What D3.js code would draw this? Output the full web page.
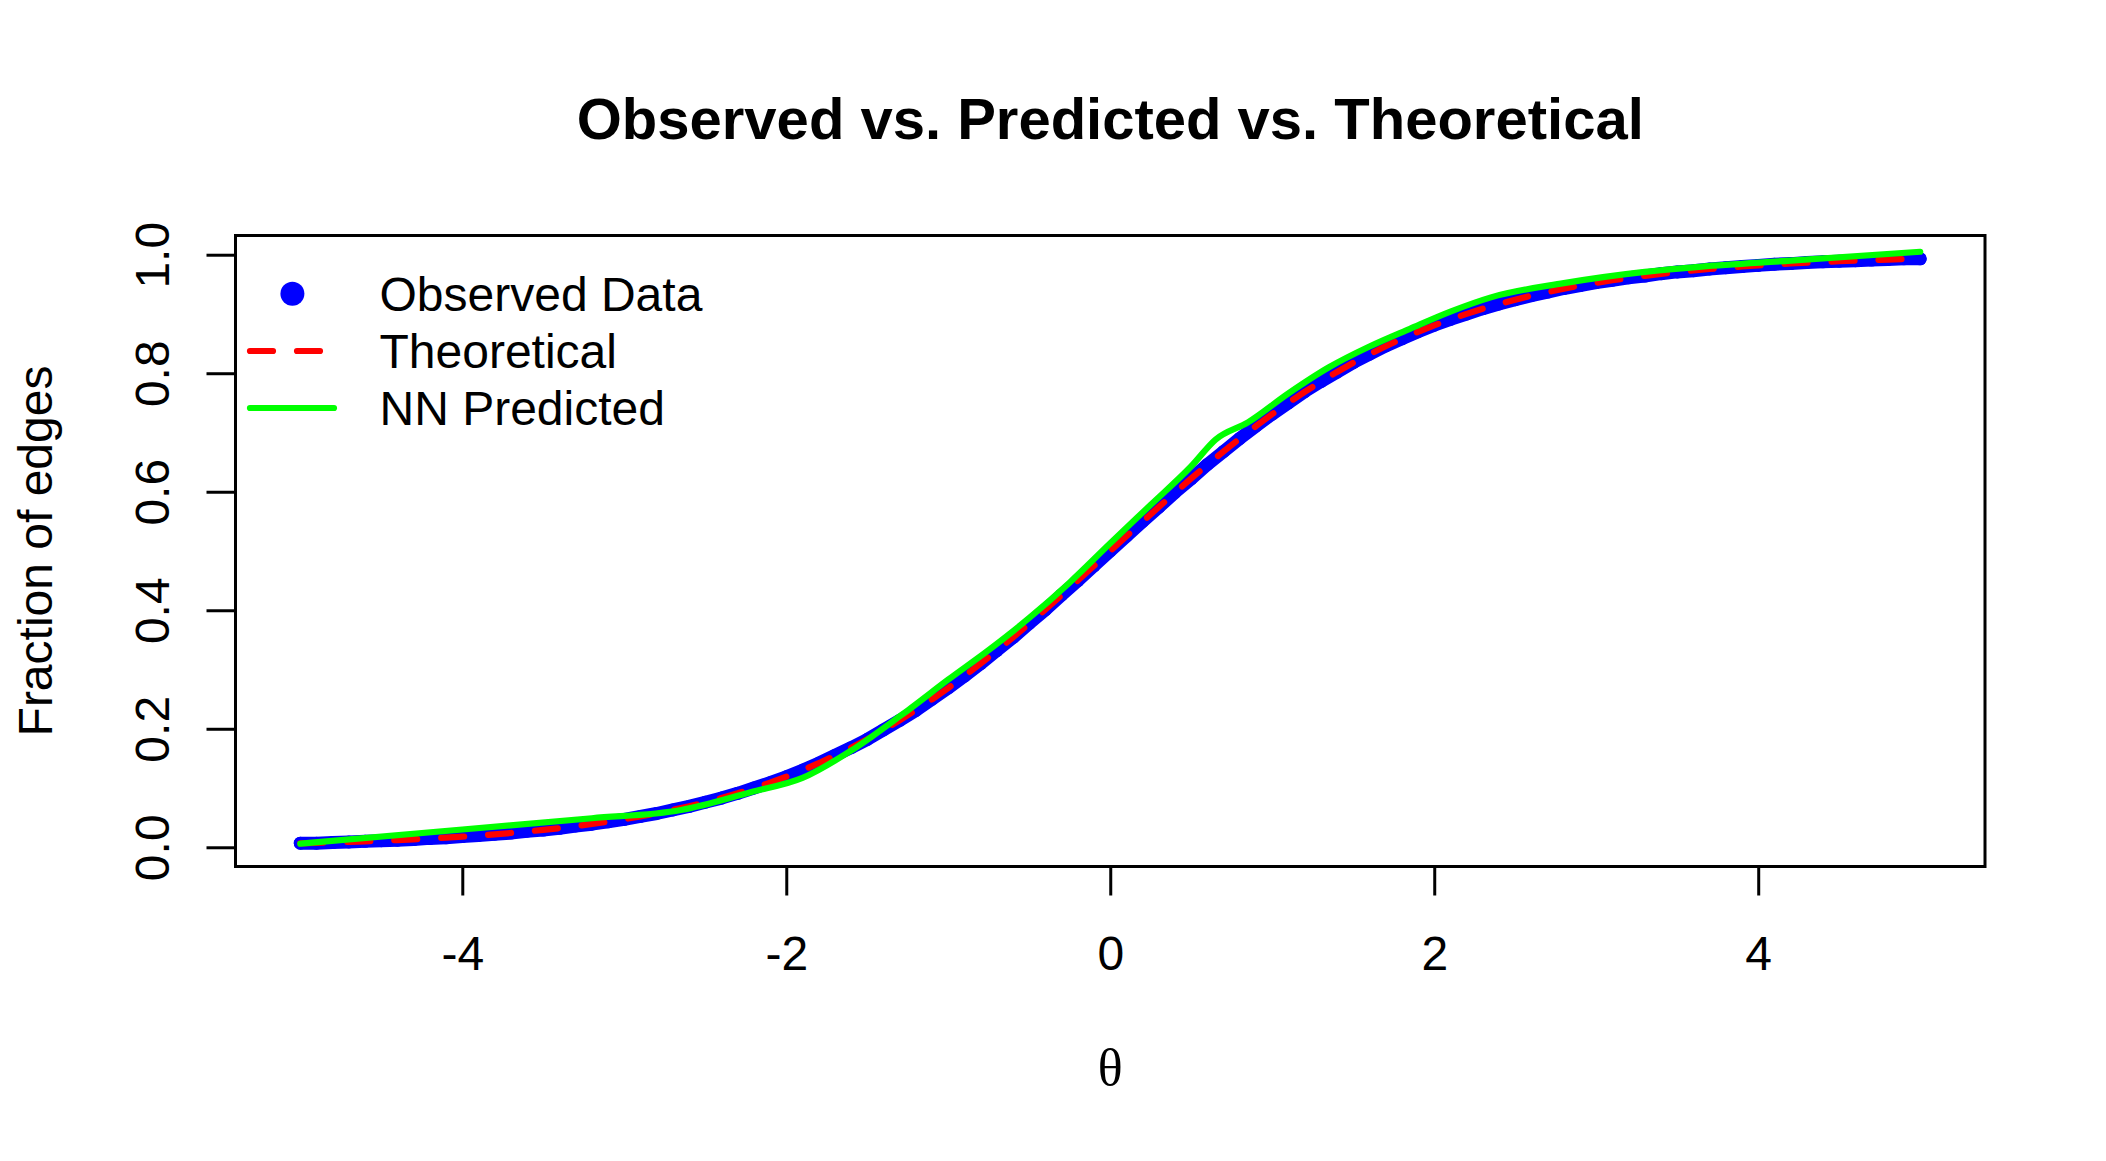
<!DOCTYPE html>
<html>
<head>
<meta charset="utf-8">
<script src="https://cdn.jsdelivr.net/npm/d3@7"></script>
<style>
  html, body { margin: 0; padding: 0; background: #fff; }
  svg { display: block; }
</style>
</head>
<body>
<svg id="chart"></svg>
<script>
/* Observed vs. Predicted vs. Theoretical — logistic edge fraction */

const thetaGrid = [
  -5.0,-4.9,-4.8,-4.7,-4.6,-4.5,-4.4,-4.3,-4.2,-4.1,
  -4.0,-3.9,-3.8,-3.7,-3.6,-3.5,-3.4,-3.3,-3.2,-3.1,
  -3.0,-2.9,-2.8,-2.7,-2.6,-2.5,-2.4,-2.3,-2.2,-2.1,
  -2.0,-1.9,-1.8,-1.7,-1.6,-1.5,-1.4,-1.3,-1.2,-1.1,
  -1.0,-0.9,-0.8,-0.7,-0.6,-0.5,-0.4,-0.3,-0.2,-0.1,
  0.0,
  0.1,0.2,0.3,0.4,0.5,0.6,0.7,0.8,0.9,1.0,
  1.1,1.2,1.3,1.4,1.5,1.6,1.7,1.8,1.9,2.0,
  2.1,2.2,2.3,2.4,2.5,2.6,2.7,2.8,2.9,3.0,
  3.1,3.2,3.3,3.4,3.5,3.6,3.7,3.8,3.9,4.0,
  4.1,4.2,4.3,4.4,4.5,4.6,4.7,4.8,4.9,5.0
];

const observedFrac = [
  0.007,0.007,0.008,0.009,0.010,0.011,0.012,0.013,0.015,0.016,
  0.018,0.020,0.022,0.024,0.027,0.029,0.032,0.036,0.039,0.043,
  0.047,0.052,0.057,0.063,0.069,0.076,0.083,0.091,0.100,0.109,
  0.119,0.130,0.142,0.155,0.168,0.182,0.198,0.214,0.231,0.250,
  0.269,0.289,0.310,0.332,0.354,0.378,0.401,0.426,0.450,0.475,
  0.500,
  0.525,0.550,0.574,0.599,0.622,0.646,0.668,0.690,0.711,0.731,
  0.750,0.769,0.786,0.802,0.818,0.832,0.846,0.858,0.870,0.881,
  0.891,0.900,0.909,0.917,0.924,0.931,0.937,0.943,0.948,0.953,
  0.957,0.961,0.964,0.968,0.971,0.973,0.976,0.978,0.980,0.982,
  0.984,0.985,0.987,0.988,0.989,0.990,0.991,0.992,0.993,0.993
];

const theoreticalFrac = [
  0.0067,0.0074,0.0082,0.0090,0.0100,0.0110,0.0121,0.0134,0.0148,0.0163,
  0.0180,0.0198,0.0219,0.0241,0.0266,0.0293,0.0323,0.0356,0.0392,0.0431,
  0.0474,0.0522,0.0573,0.0630,0.0691,0.0759,0.0832,0.0911,0.0998,0.1091,
  0.1192,0.1301,0.1419,0.1545,0.1680,0.1824,0.1978,0.2142,0.2315,0.2497,
  0.2689,0.2891,0.3100,0.3318,0.3543,0.3775,0.4013,0.4256,0.4502,0.4750,
  0.5000,
  0.5250,0.5498,0.5744,0.5987,0.6225,0.6457,0.6682,0.6900,0.7109,0.7311,
  0.7503,0.7685,0.7858,0.8022,0.8176,0.8320,0.8455,0.8581,0.8699,0.8808,
  0.8909,0.9002,0.9089,0.9168,0.9241,0.9309,0.9370,0.9427,0.9478,0.9526,
  0.9569,0.9608,0.9644,0.9677,0.9707,0.9734,0.9759,0.9781,0.9802,0.9820,
  0.9837,0.9852,0.9866,0.9879,0.9890,0.9900,0.9910,0.9918,0.9926,0.9933
];

const nnTheta = [-5, -4, -3.2, -2.65, -2.22, -1.9, -1.6, -1.3, -1.25, -1.0, -0.75, -0.5, -0.25,
  0, 0.25, 0.5, 0.65, 0.85, 1.1, 1.35, 1.6, 1.85, 2.1, 2.35, 2.8, 3.3, 3.65, 4.2, 5];
const nnFrac = [0.006, 0.030, 0.049, 0.063, 0.093, 0.117, 0.163, 0.221, 0.231, 0.283, 0.333, 0.387, 0.447,
  0.513, 0.578, 0.643, 0.688, 0.717, 0.766, 0.810, 0.845, 0.875, 0.904, 0.928, 0.952, 0.971, 0.980, 0.990, 1.005];

const xTicks = [-4, -2, 0, 2, 4];
const yTicks = [0, 0.2, 0.4, 0.6, 0.8, 1.0];
const legendLabels = ['Observed Data', 'Theoretical', 'NN Predicted'];

const W = 2106, H = 1161;
const box = { left: 235.5, right: 1985, top: 235.5, bottom: 866.5 };
const FONT = 'Liberation Sans, Arial, Helvetica, sans-serif';
const FS = 48;
const BLUE = '#0000ff', RED = '#ff0000', GREEN = '#00ff00';

const svg = d3.select('#chart').attr('width', W).attr('height', H);
svg.append('rect').attr('width', W).attr('height', H).attr('fill', '#fff');

// R-style 4% axis extension
function rRange(vals) {
  const e = d3.extent(vals), p = (e[1] - e[0]) * 0.04;
  return [e[0] - p, e[1] + p];
}
const x = d3.scaleLinear().domain(rRange(thetaGrid)).range([box.left, box.right]);
const y = d3.scaleLinear().domain(rRange(observedFrac)).range([box.bottom, box.top]);

const obsPts = thetaGrid.map((t, i) => [t, observedFrac[i]]);
const thPts = thetaGrid.map((t, i) => [t, theoreticalFrac[i]]);
const nnPts = nnTheta.map((t, i) => [t, nnFrac[i]]);
const line = d3.line().x(d => x(d[0])).y(d => y(d[1]));

const plot = svg.append('g');
// observed points (dense solid circles forming a band)
plot.append('path').datum(obsPts).attr('d', line)
  .attr('fill', 'none').attr('stroke', BLUE).attr('stroke-width', 13)
  .attr('stroke-linecap', 'round').attr('stroke-linejoin', 'round');
plot.selectAll('circle.obs').data(obsPts).enter().append('circle')
  .attr('class', 'obs').attr('cx', d => x(d[0])).attr('cy', d => y(d[1]))
  .attr('r', 6.5).attr('fill', BLUE);
// theoretical
plot.append('path').datum(thPts).attr('d', line)
  .attr('fill', 'none').attr('stroke', RED).attr('stroke-width', 6.2)
  .attr('stroke-dasharray', '23,24').attr('stroke-linecap', 'round');
// NN predicted
plot.append('path').datum(nnPts).attr('d', line.curve(d3.curveMonotoneX))
  .attr('fill', 'none').attr('stroke', GREEN).attr('stroke-width', 6.2)
  .attr('stroke-linecap', 'round').attr('stroke-linejoin', 'round');

// box
svg.append('rect')
  .attr('x', box.left).attr('y', box.top)
  .attr('width', box.right - box.left).attr('height', box.bottom - box.top)
  .attr('fill', 'none').attr('stroke', '#000').attr('stroke-width', 3);

// x axis
const gx = svg.append('g').attr('transform', `translate(0,${box.bottom})`)
  .call(d3.axisBottom(x).tickValues(xTicks).tickSizeInner(29).tickSizeOuter(0).tickFormat(d3.format('d')));
gx.select('.domain').remove();
gx.append('line').attr('x1', x(xTicks[0])).attr('x2', x(xTicks[xTicks.length - 1]))
  .attr('stroke', '#000').attr('stroke-width', 3);
gx.selectAll('.tick line').attr('stroke', '#000').attr('stroke-width', 3);
gx.selectAll('.tick text').attr('y', 103.5).attr('dy', null)
  .attr('fill', '#000').style('font-family', FONT).style('font-size', FS + 'px')
  .text(d => d < 0 ? '-' + Math.abs(d) : d);

// y axis
const gy = svg.append('g').attr('transform', `translate(${box.left},0)`)
  .call(d3.axisLeft(y).tickValues(yTicks).tickSizeInner(29).tickSizeOuter(0).tickFormat(d3.format('.1f')));
gy.select('.domain').remove();
gy.append('line').attr('y1', y(yTicks[0])).attr('y2', y(yTicks[yTicks.length - 1]))
  .attr('stroke', '#000').attr('stroke-width', 3);
gy.selectAll('.tick line').attr('stroke', '#000').attr('stroke-width', 3);
gy.selectAll('.tick text').attr('x', null).attr('dy', null)
  .attr('transform', `translate(${168.7 - box.left},0) rotate(-90)`)
  .attr('text-anchor', 'middle').attr('fill', '#000')
  .style('font-family', FONT).style('font-size', FS + 'px');

// titles
const cx = (box.left + box.right) / 2;
svg.append('text').attr('x', cx).attr('y', 139.3).attr('text-anchor', 'middle')
  .style('font-family', FONT).style('font-size', '58px').style('font-weight', 'bold')
  .text('Observed vs. Predicted vs. Theoretical');
svg.append('text').attr('x', cx).attr('y', 1085).attr('text-anchor', 'middle')
  .style('font-family', 'Liberation Serif, Times New Roman, serif').style('font-size', '52px')
  .text('θ');
svg.append('text')
  .attr('transform', `translate(52,${(box.top + box.bottom) / 2}) rotate(-90)`)
  .attr('text-anchor', 'middle')
  .style('font-family', FONT).style('font-size', FS + 'px')
  .text('Fraction of edges');

// legend
const legRowY = [293.7, 351, 408];
const leg = svg.append('g');
leg.append('circle').attr('cx', 292.4).attr('cy', legRowY[0]).attr('r', 12).attr('fill', BLUE);
leg.append('line').attr('x1', 250).attr('x2', 337).attr('y1', legRowY[1]).attr('y2', legRowY[1])
  .attr('stroke', RED).attr('stroke-width', 6.2).attr('stroke-dasharray', '23,24').attr('stroke-linecap', 'round');
leg.append('line').attr('x1', 250).attr('x2', 334).attr('y1', legRowY[2]).attr('y2', legRowY[2])
  .attr('stroke', GREEN).attr('stroke-width', 6.2).attr('stroke-linecap', 'round');
leg.selectAll('text').data(legendLabels).enter().append('text')
  .attr('x', 379.5).attr('y', (d, i) => legRowY[i] + 0.358 * FS)
  .style('font-family', FONT).style('font-size', FS + 'px')
  .text(d => d);
</script>
</body>
</html>
